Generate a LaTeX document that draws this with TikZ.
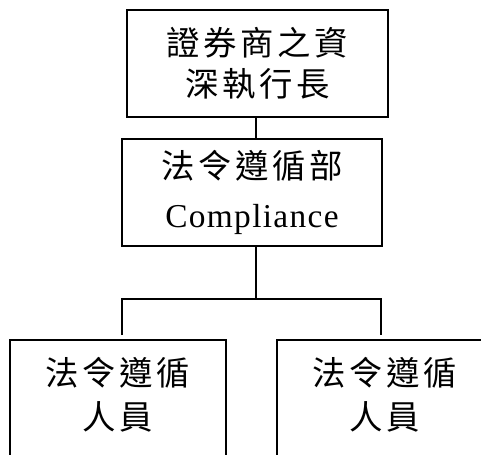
\documentclass[tikz,border=0pt]{standalone}
\usepackage{fontspec}
\usepackage{tikz}
\newfontfamily\cjk[LetterSpace=11]{Noto Sans CJK TC}
\newfontfamily\lat[LetterSpace=4]{Liberation Serif}

\begin{document}
\begin{tikzpicture}[x=0.02cm,y=-0.02cm,line width=1pt,
  box/.style={draw,align=center,inner sep=0pt,font=\cjk\fontsize{19}{23.5}\selectfont}]
\useasboundingbox (0,0) rectangle (481,454);

\node[box,minimum width=261*0.02cm,minimum height=107*0.02cm] (ceo) at (257.5,63.5) {證券商之資\\深執行長};
\node[box,minimum width=260*0.02cm,minimum height=107*0.02cm] (dept) at (252,192.5) {法令遵循部\\[4pt]{\lat Compliance}};

\node[box,minimum width=216*0.02cm,minimum height=120*0.02cm,text depth=8pt] (staffA) at (118,400) {法令遵循\\[1.5pt]人員};
\node[box,minimum width=216*0.02cm,minimum height=120*0.02cm,text depth=8pt] (staffB) at (385,400) {法令遵循\\[1.5pt]人員};

\coordinate (trunk) at (256,299);
\coordinate (legA) at (122,335);
\coordinate (barB) at (381,299);
\coordinate (legB) at (381,335);

\draw (ceo.south -| trunk) -- (dept.north -| trunk);
\draw (dept.south -| trunk) -- (trunk);
\draw (legA) |- (barB) -- (legB);
\end{tikzpicture}
\end{document}
